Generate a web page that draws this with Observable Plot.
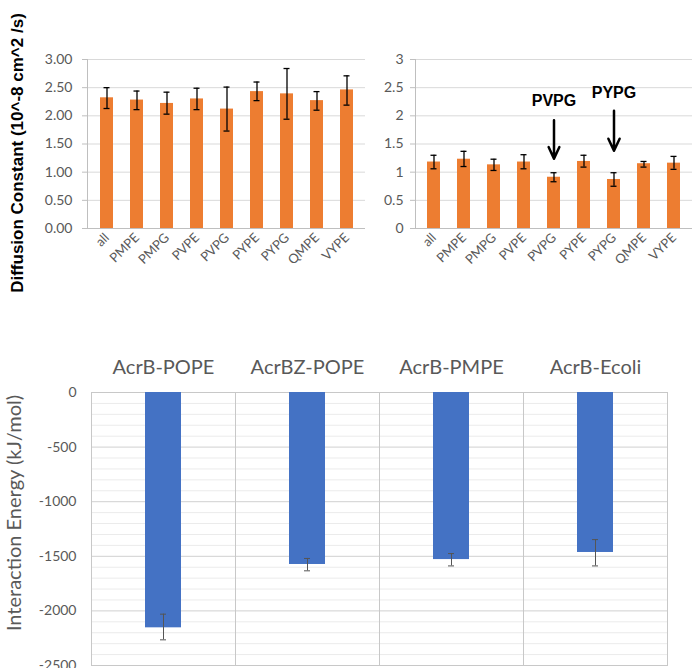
<!DOCTYPE html>
<html>
<head>
<meta charset="utf-8">
<script src="https://cdn.jsdelivr.net/npm/d3@7"></script>
<script src="https://cdn.jsdelivr.net/npm/@observablehq/plot@0.6"></script>
<style>
  html, body { margin: 0; padding: 0; background: #fff; }
  #root { position: relative; width: 696px; height: 668px; overflow: hidden; font-family: Lato, "Noto Sans", sans-serif; }
  .panel { position: absolute; }
  .ylab { position: absolute; white-space: nowrap; transform: translate(-50%, -50%) rotate(-90deg); }
</style>
</head>
<body>
<div id="root"></div>
<script>
// ---- Data: top panels (diffusion constants) ----
const lipids = ["all", "PMPE", "PMPG", "PVPE", "PVPG", "PYPE", "PYPG", "QMPE", "VYPE"];
const leftMean = [2.32, 2.28, 2.22, 2.30, 2.12, 2.43, 2.39, 2.27, 2.46];
const leftLow  = [2.13, 2.11, 2.03, 2.11, 1.73, 2.27, 1.94, 2.10, 2.19];
const leftHigh = [2.50, 2.44, 2.42, 2.49, 2.51, 2.60, 2.84, 2.43, 2.71];
const rightMean = [1.18, 1.23, 1.13, 1.18, 0.91, 1.19, 0.87, 1.15, 1.16];
const rightLow  = [1.06, 1.10, 1.03, 1.06, 0.83, 1.09, 0.75, 1.09, 1.05];
const rightHigh = [1.30, 1.37, 1.23, 1.31, 0.99, 1.30, 0.99, 1.19, 1.28];
const leftTicks = [0, 0.5, 1, 1.5, 2, 2.5, 3];
const rightTicks = [0, 0.5, 1, 1.5, 2, 2.5, 3];
const diffusionTitle = "Diffusion Constant (10^-8 cm^2 /s)";

// annotations on the right panel
const annotLipids = ["PVPG", "PYPG"];
const annotTextY = [2.27, 2.40];
const annotArrowTop = [1.92, 2.09];
const annotArrowBottom = [1.24, 1.38];

// ---- Data: bottom panel (interaction energies) ----
const systems = ["AcrB-POPE", "AcrBZ-POPE", "AcrB-PMPE", "AcrB-Ecoli"];
const energy     = [-2155, -1575, -1530, -1465];
const energyLow  = [-2265, -1633, -1588, -1588];
const energyHigh = [-2030, -1520, -1475, -1347];
const energyMajorTicks = [0, -500, -1000, -1500, -2000, -2500];
const energyMinorTicks = [-100, -200, -300, -400, -600, -700, -800, -900, -1100, -1200, -1300, -1400,
  -1600, -1700, -1800, -1900, -2100, -2200, -2300, -2400];
const energyTitle = "Interaction Energy (kJ/mol)";

const root = document.getElementById("root");
const GRAY_TEXT = "#595959";
const ORANGE = "#ED7D31";
const BLUE = "#4472C4";

function topChart({mean, low, high, ticks, tickFormat, width, marginLeft, marginRight, annotations}) {
  const data = lipids.map((c, i) => ({c, m: mean[i], lo: low[i], hi: high[i]}));
  const marks = [
    Plot.gridY({ticks, stroke: "#d9d9d9", strokeOpacity: 1}),
    Plot.ruleY([0], {stroke: "#bfbfbf"}),
    Plot.frame({anchor: "left", stroke: "#bfbfbf"}),
    Plot.barY(data, {x: "c", y: "m", fill: ORANGE}),
    Plot.ruleX(data, {x: "c", y1: "lo", y2: "hi", stroke: "#000", strokeWidth: 1.3}),
    Plot.tickY(data, {x: "c", y: "lo", stroke: "#000", strokeWidth: 1.3, insetLeft: 3.5, insetRight: 3.5}),
    Plot.tickY(data, {x: "c", y: "hi", stroke: "#000", strokeWidth: 1.3, insetLeft: 3.5, insetRight: 3.5}),
    Plot.axisY({ticks, tickSize: 5, stroke: "#bfbfbf", tickFormat: () => "", label: null}),
    Plot.axisY({ticks, tickSize: 0, tickPadding: marginLeft > 60 ? 15 : 12, tickFormat, fontSize: 14, fill: GRAY_TEXT, label: null}),
    Plot.axisX({tickRotate: -45, tickSize: 0, tickPadding: 7, fontSize: 13, fill: GRAY_TEXT, label: null})
  ];
  if (annotations) {
    const ann = annotLipids.map((c, i) => ({c, t: annotTextY[i], a1: annotArrowTop[i], a2: annotArrowBottom[i]}));
    marks.push(
      Plot.text(ann, {x: "c", y: "t", text: "c", fontSize: 16, fontWeight: "bold", fill: "#000",
        fontFamily: "'Liberation Sans', Arial, sans-serif"}),
      Plot.arrow(ann, {x1: "c", x2: "c", y1: "a1", y2: "a2", stroke: "#000", strokeWidth: 2.5, headLength: 12, headAngle: 50})
    );
  }
  return Plot.plot({
    width, height: 300,
    marginLeft, marginRight, marginTop: 59, marginBottom: 72,
    style: {fontFamily: "Lato, 'Noto Sans', sans-serif", background: "transparent"},
    x: {domain: lipids, paddingInner: 0.58, paddingOuter: 0.29, label: null},
    y: {domain: [0, 3], label: null},
    marks
  });
}

function place(el, left, top) {
  const d = document.createElement("div");
  d.className = "panel";
  d.style.left = left + "px";
  d.style.top = top + "px";
  d.appendChild(el);
  root.appendChild(d);
}

const left = topChart({mean: leftMean, low: leftLow, high: leftHigh, ticks: leftTicks,
  tickFormat: d3.format(".2f"), width: 370, marginLeft: 87, marginRight: 5});
place(left, 0, 0);

const right = topChart({mean: rightMean, low: rightLow, high: rightHigh, ticks: rightTicks,
  tickFormat: d => String(d), width: 326, marginLeft: 45, marginRight: 4, annotations: true});
place(right, 370, 0);

// y title for the top panels
const t1 = document.createElement("div");
t1.className = "ylab";
t1.textContent = diffusionTitle;
t1.style.left = "18px";
t1.style.top = "153px";
t1.style.font = "bold 17px 'Liberation Sans', Arial, sans-serif";
t1.style.color = "#000";
root.appendChild(t1);

// ---- Bottom panel ----
const bottomData = systems.map((s, i) => ({s, e: energy[i], lo: energyLow[i], hi: energyHigh[i]}));
const bottom = Plot.plot({
  width: 696, height: 368,
  marginLeft: 90, marginRight: 28, marginTop: 92, marginBottom: 3,
  style: {fontFamily: "Lato, 'Noto Sans', sans-serif", background: "transparent"},
  fx: {domain: systems, padding: 0, axis: null, label: null},
  x: {domain: [""], paddingInner: 0, paddingOuter: 1.5, axis: null, label: null},
  y: {domain: [-2500, 0], label: null},
  marks: [
    Plot.ruleY(energyMinorTicks, {stroke: "#ebebeb"}),
    Plot.ruleY(energyMajorTicks, {stroke: "#d0d0d0"}),
    Plot.frame({stroke: "#c8c8c8"}),
    Plot.barY(bottomData, {fx: "s", x: () => "", y: "e", fill: BLUE}),
    Plot.ruleX(bottomData, {fx: "s", x: () => "", y1: "lo", y2: "hi", stroke: "#555", strokeWidth: 1}),
    Plot.tickY(bottomData, {fx: "s", x: () => "", y: "lo", stroke: "#555", insetLeft: 15, insetRight: 15}),
    Plot.tickY(bottomData, {fx: "s", x: () => "", y: "hi", stroke: "#555", insetLeft: 15, insetRight: 15}),
    Plot.text(systems, {fx: d => d, text: d => d, frameAnchor: "top", dy: -33, fontSize: 20, fill: GRAY_TEXT}),
    Plot.axisY({ticks: energyMajorTicks, tickSize: 0, tickPadding: 15, tickFormat: d => String(d), fontSize: 14, fill: GRAY_TEXT, label: null})
  ]
});
place(bottom, 0, 300);

const t2 = document.createElement("div");
t2.className = "ylab";
t2.textContent = energyTitle;
t2.style.left = "13px";
t2.style.top = "513px";
t2.style.font = "20px Lato, 'Noto Sans', sans-serif";
t2.style.color = GRAY_TEXT;
root.appendChild(t2);
</script>
</body>
</html>
